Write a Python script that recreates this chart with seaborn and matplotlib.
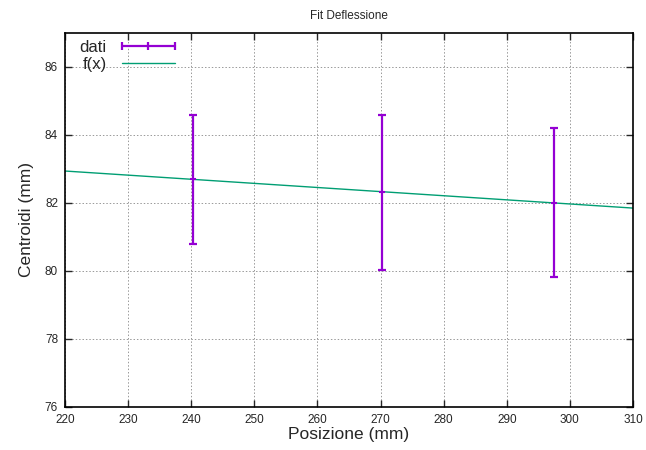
import matplotlib
matplotlib.use("Agg")
import matplotlib.pyplot as plt
from matplotlib.lines import Line2D
import seaborn as sns
import pandas as pd

# data
pos = [240.3, 270.2, 297.5]
centroidi = [82.7, 82.32, 82.0]
err_up = [1.9, 2.28, 2.2]
err_down = [1.9, 2.29, 2.18]

# fit line endpoints
fit_x = [220, 310]
fit_y = [82.94, 81.85]

xticks = list(range(220, 311, 10))
yticks = list(range(76, 87, 2))

sns.set_style("ticks")
plt.rcParams['font.family'] = ['Liberation Sans', 'DejaVu Sans']

fig = plt.figure(figsize=(6.46, 4.5), dpi=100)
ax = fig.add_axes([0.1006, 0.0956, 0.8793, 0.8311])

purple = "#9400d3"
green = "#009e73"

fit_df = pd.DataFrame({"x": fit_x, "y": fit_y})
sns.lineplot(data=fit_df, x="x", y="y", ax=ax, color=green, lw=1.0, zorder=2)

ax.errorbar(pos, centroidi, yerr=[err_down, err_up], fmt='none', ecolor=purple,
            elinewidth=1.6, capsize=3, capthick=1.6, zorder=3)
ax.plot(pos, centroidi, ls='none', marker='_', color=purple, ms=5, mew=1.5, zorder=3)

ax.set_xlim(220, 310)
ax.set_ylim(76, 87)
ax.set_xticks(xticks)
ax.set_yticks(yticks)
ax.tick_params(direction='in', length=5, width=1, labelsize=8.5, top=True, right=True, pad=5)
ax.grid(True, ls=(0, (1.5, 2)), color='#999999', lw=0.7)
for s in ax.spines.values():
    s.set_linewidth(1.2)
    s.set_color('black')

ax.set_xlabel("Posizione (mm)", fontsize=12.5, labelpad=1)
ax.set_ylabel("Centroidi (mm)", fontsize=12.5, labelpad=8)
ax.set_title("Fit Deflessione", fontsize=8.5, pad=10)

h_dati = Line2D([], [], color=purple, lw=1.6, marker='|', ms=6, mew=1.6)
h_fit = Line2D([], [], color=green, lw=1.0)
ax.legend([h_dati, h_fit], ["dati", "f(x)"], loc='upper left',
          bbox_to_anchor=(0.005, 1.012), frameon=False, markerfirst=False,
          numpoints=3, fontsize=12, handlelength=3.8, handletextpad=0.6,
          labelspacing=0.1, borderaxespad=0.3)

fig.savefig("out.png", dpi=100)
